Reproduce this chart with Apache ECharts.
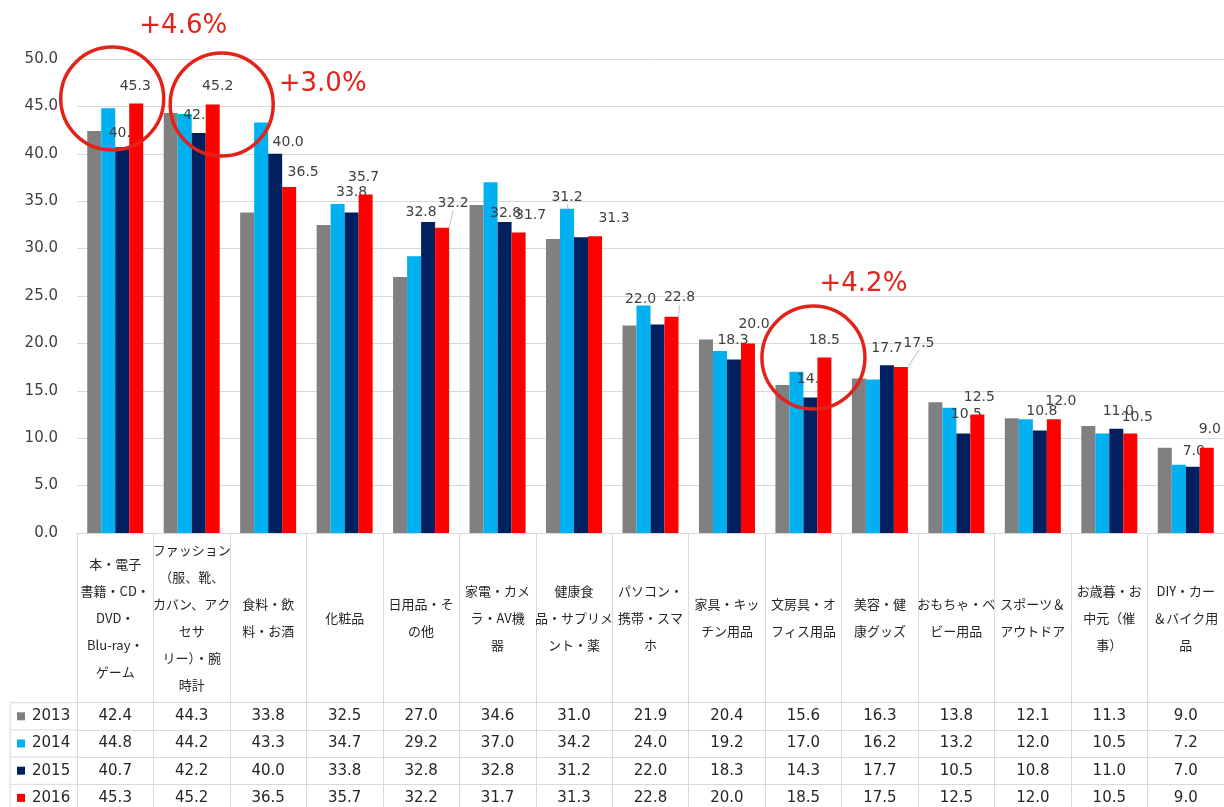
<!DOCTYPE html>
<html>
<head>
<meta charset="utf-8">
<script src="https://cdn.jsdelivr.net/npm/echarts@6/dist/echarts.min.js"></script>
<style>
html,body{margin:0;padding:0;background:#fff;}
#main{width:1224px;height:807px;}
</style>
</head>
<body>
<div id="main"></div>
<script>
// ---- data ----
const categories = [
  '本・電子\n書籍・CD・\nDVD・\nBlu-ray・\nゲーム',
  'ファッション\n（服、靴、\nカバン、アク\nセサ\nリー）・腕\n時計',
  '食料・飲\n料・お酒',
  '化粧品',
  '日用品・そ\nの他',
  '家電・カメ\nラ・AV機\n器',
  '健康食\n品・サプリメ\nント・薬',
  'パソコン・\n携帯・スマ\nホ',
  '家具・キッ\nチン用品',
  '文房具・オ\nフィス用品',
  '美容・健\n康グッズ',
  'おもちゃ・ベ\nビー用品',
  'スポーツ＆\nアウトドア',
  'お歳暮・お\n中元（催\n事）',
  'DIY・カー\n＆バイク用\n品'
];
const years = ['2013', '2014', '2015', '2016'];
const v2013 = [42.4, 44.3, 33.8, 32.5, 27.0, 34.6, 31.0, 21.9, 20.4, 15.6, 16.3, 13.8, 12.1, 11.3, 9.0];
const v2014 = [44.8, 44.2, 43.3, 34.7, 29.2, 37.0, 34.2, 24.0, 19.2, 17.0, 16.2, 13.2, 12.0, 10.5, 7.2];
const v2015 = [40.7, 42.2, 40.0, 33.8, 32.8, 32.8, 31.2, 22.0, 18.3, 14.3, 17.7, 10.5, 10.8, 11.0, 7.0];
const v2016 = [45.3, 45.2, 36.5, 35.7, 32.2, 31.7, 31.3, 22.8, 20.0, 18.5, 17.5, 12.5, 12.0, 10.5, 9.0];
const yMin = 0, yMax = 50, yStep = 5;
const annotations = [
  { cat: 0, text: '+4.6%' },
  { cat: 1, text: '+3.0%' },
  { cat: 9, text: '+4.2%' }
];

// ---- styling ----
const colors = ['#808080', '#00B0F0', '#002060', '#FF0000'];
const annRed = '#E2231A';
const gridCol = '#D9D9D9';
const txt = '#404040';
const numFont = 'DejaVu Sans';
const jpFont = 'Noto Sans CJK JP';
// label nudges (px) for 2015 / 2016 data labels, mimicking hand-moved labels
const shift2015 = [[2,3],[0,-1],[13,6],[0,-3],[-7,7],[1,8],[-14,-23],[-17,-8],[-1,-2],[2,-1],[0,0],[3,-2],[2,-2],[2,0],[1,2]];
const shift2016 = [[-1,0],[5,-1],[14,2],[-2,0],[11,-7],[12,0],[19,-1],[8,-2],[6,-2],[0,0],[18,-7],[2,0],[7,-1],[7,1],[3,-1]];
const leader2015 = [6, 7];
const leader2016 = [4, 7, 10];
// annotation layout relative to [category centre, 2016 bar top]
const annLayout = [
  { cdx: -3, cdy: -5, tdx: 68, tdy: -77 },
  { cdx: 30, cdy: 0, tdx: 131, tdy: -20 },
  { cdx: 10, cdy: 0, tdx: 60, tdy: -73 }
];

const seriesVals = [v2013, v2014, v2015, v2016];
const rowPitch = 27.2;
const headerH = 169.7;

function items(vals, leaders) {
  return vals.map((v, i) => leaders && leaders.indexOf(i) >= 0
    ? { value: v, labelLine: { show: true, lineStyle: { color: '#BFBFBF', width: 1 } } }
    : { value: v });
}

const series = years.map((y, k) => {
  const s = {
    name: y,
    type: 'bar',
    xAxisIndex: 0,
    yAxisIndex: 0,
    barWidth: 14,
    barGap: '0%',
    z: k === 3 ? 3 : 2,
    itemStyle: { color: colors[k] },
    data: items(seriesVals[k], k === 2 ? leader2015 : (k === 3 ? leader2016 : null))
  };
  if (k >= 2) {
    const sh = k === 2 ? shift2015 : shift2016;
    s.label = {
      show: true, position: 'top', distance: 10,
      color: txt, fontFamily: numFont, fontSize: 14,
      formatter: p => p.value.toFixed(1)
    };
    s.labelLayout = p => ({ dx: sh[p.dataIndex][0], dy: sh[p.dataIndex][1] });
    s.labelLine = { show: false, lineStyle: { color: '#BFBFBF', width: 1 } };
  }
  return s;
});

const xAxes = [{
  type: 'category',
  gridIndex: 0,
  data: categories,
  position: 'bottom',
  axisLine: { show: true, lineStyle: { color: gridCol, width: 1 } },
  axisTick: { show: true, interval: 0, length: 280, lineStyle: { color: gridCol, width: 1 } },
  axisLabel: {
    interval: 0, margin: headerH / 2, verticalAlign: 'middle', align: 'center',
    lineHeight: 27, fontSize: 13, fontFamily: jpFont, color: '#262626'
  },
  splitLine: { show: false }
}];
seriesVals.forEach((vals, k) => {
  xAxes.push({
    type: 'category',
    gridIndex: 0,
    position: 'bottom',
    offset: headerH + rowPitch * k,
    data: vals.map(v => v.toFixed(1)),
    axisLine: { show: true, lineStyle: { color: gridCol, width: 1 } },
    axisTick: { show: false },
    axisLabel: {
      interval: 0, margin: rowPitch / 2, verticalAlign: 'middle', align: 'center',
      fontSize: 15, fontFamily: numFont, color: '#262626'
    },
    splitLine: { show: false }
  });
});

const chart = echarts.init(document.getElementById('main'), null, { renderer: 'canvas' });
chart.setOption({
  animation: false,
  backgroundColor: '#fff',
  grid: { left: 77, right: 0, top: 59, bottom: 274, containLabel: false },
  legend: {
    show: true,
    type: 'plain',
    orient: 'vertical',
    left: 17,
    top: 702.7 + rowPitch / 2 - 8.5,
    height: 120,
    padding: 0,
    itemWidth: 8, itemHeight: 8, itemGap: rowPitch - 17,
    icon: 'rect',
    selectedMode: false,
    data: years,
    textStyle: { fontSize: 15, lineHeight: 17, fontFamily: numFont, color: '#262626', padding: [0, 0, 0, 2] }
  },
  xAxis: xAxes,
  yAxis: {
    type: 'value', gridIndex: 0,
    min: yMin, max: yMax, interval: yStep,
    axisLine: { show: false }, axisTick: { show: false },
    axisLabel: { formatter: v => v.toFixed(1), fontSize: 15, fontFamily: numFont, color: txt, margin: 19 },
    splitLine: { show: true, lineStyle: { color: gridCol, width: 1 } }
  },
  series: series
});

// table borders of the legend column + annotations anchored on the chart's scales
const graphics = [];
const lx0 = 10, lx1 = 77;
for (let k = 0; k < 4; k++) {
  const yy = 533 + headerH + rowPitch * k;
  graphics.push({ type: 'line', shape: { x1: lx0, y1: yy, x2: lx1, y2: yy }, style: { stroke: gridCol, lineWidth: 1 }, silent: true });
}
graphics.push({ type: 'line', shape: { x1: lx0, y1: 533 + headerH, x2: lx0, y2: 807 }, style: { stroke: gridCol, lineWidth: 1 }, silent: true });

annotations.forEach((a, i) => {
  const L = annLayout[i];
  const p = chart.convertToPixel({ xAxisIndex: 0, yAxisIndex: 0 }, [a.cat, v2016[a.cat]]);
  graphics.push({
    type: 'circle', z: 100,
    shape: { cx: p[0] + L.cdx, cy: p[1] + L.cdy, r: 51.5 },
    style: { fill: 'none', stroke: annRed, lineWidth: 3.5 },
    silent: true
  });
  graphics.push({
    type: 'text', z: 100,
    x: p[0] + L.tdx, y: p[1] + L.tdy,
    style: { text: a.text, fill: annRed, font: '26px "DejaVu Sans"', align: 'center', verticalAlign: 'middle' },
    silent: true
  });
});
chart.setOption({ graphic: graphics });
</script>
</body>
</html>
